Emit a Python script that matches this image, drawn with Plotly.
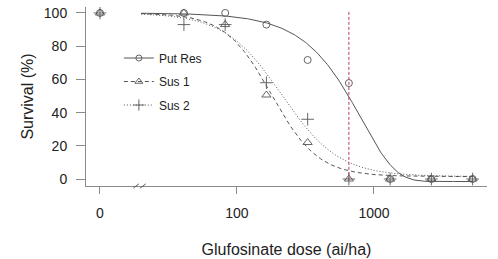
import numpy as np
import plotly.graph_objects as go

# ---- data ----
doses = [0, 41, 82, 164, 328, 656, 1312, 2624, 5248]
put_res = [100, 100, 100, 93, 71.7, 57.8, 0, 0, 0]
sus1 = [100, 100, 93, 50.6, 22, 0, 0, 0, 0]
sus2 = [100, 93, 93, 58, 36, 0, 0, 0, 0]
zero_plot_pos = 10          # where dose 0 is drawn on the log axis
ref_dose = 656              # field rate (red dashed line)
x_tickvals = [10, 100, 1000]
x_ticktext = ["0", "100", "1000"]
y_tickvals = [0, 20, 40, 60, 80, 100]

# fitted dose-response model parameters (b, c, d, e)
put_res_fit = dict(b=1.75, c=-1.5, d=100, e=813)   # Weibull type 1
sus1_fit = dict(b=2.56, c=1.5, d=100, e=179)       # log-logistic
sus2_fit = dict(b=2.09, c=1.5, d=100, e=212)       # log-logistic
curve_range = (20, 5248)

def weibull1(x, b, c, d, e):
    return c + (d - c) * np.exp(-np.exp(b * (np.log(x) - np.log(e))))

def loglogistic(x, b, c, d, e):
    return c + (d - c) / (1 + np.exp(b * (np.log(x) - np.log(e))))

xplot = [zero_plot_pos if v == 0 else v for v in doses]
xc = np.geomspace(curve_range[0], curve_range[1], 300)

line_col = "#555555"
axis_col = "#8a8a8a"
text_col = "#222222"
font_fam = "Liberation Sans, Arial, sans-serif"

fig = go.Figure()

series = [
    ("Put Res", put_res, weibull1(xc, **put_res_fit), "circle-open", 7, "solid"),
    ("Sus 1", sus1, loglogistic(xc, **sus1_fit), "triangle-up-open", 8, "4px,3px"),
    ("Sus 2", sus2, loglogistic(xc, **sus2_fit), "cross-thin-open", 9, "1px,2px"),
]

for name, ys, yc, sym, ms, dash in series:
    fig.add_trace(go.Scatter(x=xc, y=yc, mode="lines", showlegend=False,
                             line=dict(color=line_col, width=1, dash=dash), hoverinfo="skip"))
    fig.add_trace(go.Scatter(x=xplot, y=ys, mode="markers", showlegend=False,
                             marker=dict(symbol=sym, size=ms, color=line_col,
                                         line=dict(color=line_col, width=0.9))))
    # legend entry
    fig.add_trace(go.Scatter(x=[None], y=[None], mode="lines+markers", name=name,
                             legendgroup=name,
                             line=dict(color=line_col, width=1, dash=dash),
                             marker=dict(symbol=sym, size=ms - 1, color=line_col,
                                         line=dict(color=line_col, width=0.9))))

fig.add_trace(go.Scatter(x=[ref_dose, ref_dose], y=[-0.5, 100.8], mode="lines", showlegend=False,
                         line=dict(color="#b83a55", width=1, dash="3px,2px")))

# axis break marks on the x axis
for x0 in (0.118, 0.135):
    fig.add_shape(type="line", xref="paper", yref="paper",
                  x0=x0, x1=x0 + 0.014, y0=-0.012, y1=0.012,
                  line=dict(color=line_col, width=1))

W, H = 498, 259
ml, mr, mt, mb = 86, 11, 7, 73
fig.update_layout(
    width=W, height=H,
    margin=dict(l=ml, r=mr, t=mt, b=mb, pad=0, autoexpand=False),
    paper_bgcolor="white", plot_bgcolor="white",
    font=dict(family=font_fam, color=text_col, size=14),
    legend=dict(x=0.082, y=0.796, xanchor="left", yanchor="top",
                bgcolor="rgba(0,0,0,0)", font=dict(size=12), tracegroupgap=4.5,
                traceorder="grouped"),
    xaxis=dict(type="log", range=[0.898, 3.825], tickvals=x_tickvals, ticktext=x_ticktext,
               showgrid=False, zeroline=False, showline=True, linecolor=axis_col, linewidth=1,
               ticks="outside", ticklen=7, tickcolor=axis_col, tickfont=dict(size=14),
               ticklabelstandoff=7, automargin=False,
               title=dict(text="Glufosinate dose (ai/ha)", font=dict(size=16), standoff=24)),
    yaxis=dict(range=[-4.2, 103.6], tickvals=y_tickvals,
               showgrid=False, zeroline=False, showline=True, linecolor=axis_col, linewidth=1,
               ticks="outside", ticklen=9, tickcolor=axis_col, tickfont=dict(size=14),
               ticklabelstandoff=6, automargin=False,
               title=dict(text="Survival (%)", font=dict(size=16), standoff=6)),
)

fig.write_html("out.html")
